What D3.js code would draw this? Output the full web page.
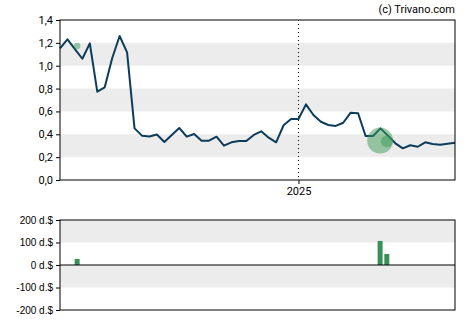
<!DOCTYPE html>
<html>
<head>
<meta charset="utf-8">
<script src="https://cdn.jsdelivr.net/npm/d3@7"></script>
<style>
  body { margin: 0; background: #fff; }
  text { font-family: Roboto, "Liberation Sans", Arial, sans-serif; }
</style>
</head>
<body>
<div id="chart"></div>
<script>
// Weekly closing prices (index 0..53)
const prices = [1.152, 1.231, 1.146, 1.061, 1.196, 0.773, 0.811, 1.065, 1.26, 1.117,
  0.452, 0.388, 0.381, 0.398, 0.333, 0.394, 0.455, 0.379, 0.403, 0.344,
  0.344, 0.379, 0.300, 0.330, 0.341, 0.341, 0.394, 0.426, 0.370, 0.330,
  0.479, 0.534, 0.534, 0.662, 0.569, 0.510, 0.481, 0.473, 0.501, 0.589,
  0.584, 0.385, 0.385, 0.452, 0.388, 0.321, 0.277, 0.304, 0.291, 0.330,
  0.315, 0.309, 0.318, 0.326];

// Insider trades: week position, price, amount (d.$)
const tradePos = [2.3, 42.95, 43.85];
const tradePrice = [1.172, 0.345, 0.338];
const tradeAmount = [27, 107, 49];

const yearIdx = 32;          // first week of 2025
const yearLabel = '2025';
const priceTicks = [0, 0.2, 0.4, 0.6, 0.8, 1.0, 1.2, 1.4];
const volTicks = [-200, -100, 0, 100, 200];

const W = 470, H = 325;
const left = 60, right = 455;
const top1 = 20, bot1 = 180;
const top2 = 220, bot2 = 310;

const svg = d3.select('#chart').append('svg')
  .attr('width', W).attr('height', H);

const x = d3.scaleLinear().domain([0, prices.length - 1]).range([left, right]);
const y = d3.scaleLinear().domain([0, 1.4]).range([bot1, top1]);
const yv = d3.scaleLinear().domain([-200, 200]).range([bot2, top2]);
const r = d3.scaleLinear().domain([0, 107]).range([0, 13]);

// Bands in price chart
[[0.2, 0.4], [0.6, 0.8], [1.0, 1.2]].forEach(b => {
  svg.append('rect')
    .attr('x', left).attr('width', right - left)
    .attr('y', y(b[1])).attr('height', y(b[0]) - y(b[1]))
    .attr('fill', '#ececec');
});

// Year marker
svg.append('line')
  .attr('x1', x(yearIdx)).attr('x2', x(yearIdx))
  .attr('y1', top1).attr('y2', bot1)
  .attr('stroke', '#000').attr('stroke-dasharray', '1,3');

// Price line
svg.append('path')
  .datum(prices)
  .attr('fill', 'none')
  .attr('stroke', '#0d3b5a')
  .attr('stroke-width', 2)
  .attr('stroke-linejoin', 'round')
  .attr('d', d3.line().x((d, i) => x(i)).y(d => y(d)));

// Trade bubbles
svg.append('g').selectAll('circle')
  .data(tradePos)
  .enter().append('circle')
    .attr('cx', (d) => x(d))
    .attr('cy', (d, i) => y(tradePrice[i]))
    .attr('r', (d, i) => Math.max(3, r(tradeAmount[i])))
    .attr('fill', '#3a9a55')
    .attr('fill-opacity', 0.5);

// Price axes + frame
svg.append('rect')
  .attr('x', left).attr('y', top1)
  .attr('width', right - left).attr('height', bot1 - top1)
  .attr('fill', 'none').attr('stroke', '#000').attr('stroke-width', 1);

svg.append('g')
  .attr('transform', `translate(${left},0)`)
  .call(d3.axisLeft(y).tickValues(priceTicks).tickSize(4)
    .tickFormat(d => d3.format('.1f')(d).replace('.', ',')))
  .call(g => g.select('.domain').remove())
  .call(g => g.selectAll('text').attr('font-size', 11).attr('fill', '#000')
    .style('font-family', 'Roboto, sans-serif'));

svg.append('g')
  .attr('transform', `translate(0,${bot1})`)
  .call(d3.axisBottom(x).tickValues([yearIdx]).tickSize(4)
    .tickFormat(() => yearLabel))
  .call(g => g.select('.domain').remove())
  .call(g => g.selectAll('text').attr('font-size', 11).attr('fill', '#000')
    .style('font-family', 'Roboto, sans-serif'));

// Copyright
svg.append('text')
  .attr('x', right).attr('y', 13)
  .attr('text-anchor', 'end')
  .attr('font-size', 11)
  .text('(c) Trivano.com');

// Volume chart bands
[[100, 200], [-100, 0]].forEach(b => {
  svg.append('rect')
    .attr('x', left).attr('width', right - left)
    .attr('y', yv(b[1])).attr('height', yv(b[0]) - yv(b[1]))
    .attr('fill', '#ececec');
});

// Volume bars
svg.append('g').selectAll('rect')
  .data(tradePos)
  .enter().append('rect')
    .attr('x', d => x(d) - 2.5)
    .attr('width', 5)
    .attr('y', (d, i) => yv(tradeAmount[i]))
    .attr('height', (d, i) => yv(0) - yv(tradeAmount[i]))
    .attr('fill', '#3a9158');

svg.append('line')
  .attr('x1', left).attr('x2', right)
  .attr('y1', yv(0)).attr('y2', yv(0))
  .attr('stroke', '#000');

svg.append('rect')
  .attr('x', left).attr('y', top2)
  .attr('width', right - left).attr('height', bot2 - top2)
  .attr('fill', 'none').attr('stroke', '#000');

svg.append('g')
  .attr('transform', `translate(${left},0)`)
  .call(d3.axisLeft(yv).tickValues(volTicks).tickSize(4)
    .tickFormat(d => `${d} d.$`))
  .call(g => g.select('.domain').remove())
  .call(g => g.selectAll('text').attr('font-size', 10).attr('fill', '#000')
    .style('font-family', '"Liberation Sans", Arial, sans-serif'));
</script>
</body>
</html>
